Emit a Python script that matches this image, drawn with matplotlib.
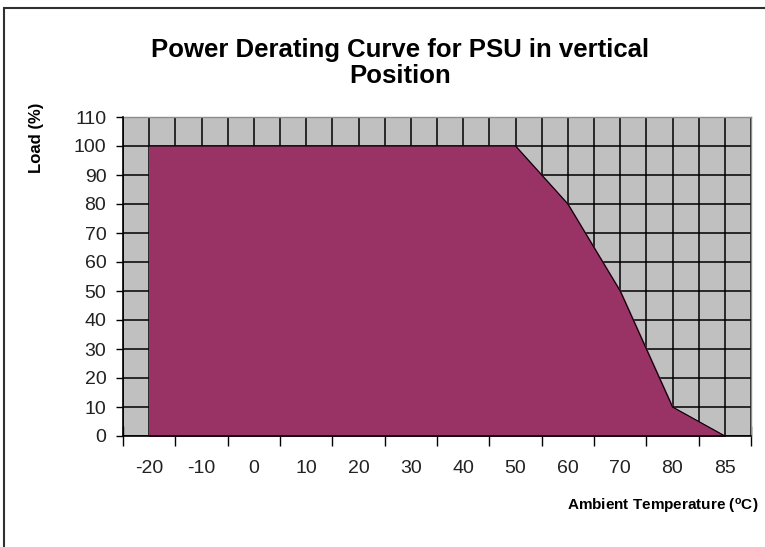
import numpy as np
import matplotlib
matplotlib.use("Agg")
import matplotlib.pyplot as plt
from matplotlib.patches import Rectangle

plt.rcParams["font.family"] = ["Liberation Sans", "DejaVu Sans"]
plt.rcParams["mathtext.fontset"] = "custom"
plt.rcParams["mathtext.rm"] = "Liberation Sans"
plt.rcParams["mathtext.bf"] = "Liberation Sans:bold"

# Data
temps = ["-20", "-10", "0", "10", "20", "30", "40", "50", "60", "70", "80", "85"]
load = [100, 100, 100, 100, 100, 100, 100, 100, 80, 50, 10, 0]
y_ticks = list(range(0, 111, 10))

fig = plt.figure(figsize=(7.65, 5.47), dpi=100)
ax = fig.add_axes([123 / 765, 1 - 436 / 547, 628 / 765, 319 / 547])

x = np.arange(len(temps))
ax.set_facecolor("#c0c0c0")
ax.fill_between(x, load, 0, color="#993366", zorder=2)
ax.plot(x, load, color="black", lw=0.8, zorder=3)

ax.set_xlim(-0.5, len(temps) - 0.5)
ax.set_ylim(0, 110)

# gridlines every half category, plus every 10 %
for gx in np.arange(-0.5, len(temps), 0.5):
    ax.axvline(gx, color="black", lw=1.1, zorder=1)
for gy in y_ticks:
    ax.axhline(gy, color="black", lw=1.1, zorder=1)

ax.set_yticks(y_ticks)
ax.tick_params(axis="y", direction="out", length=5, width=1, labelsize=14,
               pad=7, labelcolor="#222222")

ax.set_xticks(np.arange(-0.5, len(temps), 1.0))
ax.set_xticklabels([])
ax.tick_params(axis="x", which="major", direction="inout", length=14, width=1)
ax.set_xticks(x, minor=True)
ax.set_xticklabels(temps, minor=True)
ax.tick_params(axis="x", which="minor", length=0, labelsize=14, pad=17,
               labelcolor="#222222")

for s in ["left", "bottom"]:
    ax.spines[s].set_color("black")
    ax.spines[s].set_linewidth(1.2)
    ax.spines[s].set_zorder(4)
for s in ["top", "right"]:
    ax.spines[s].set_color("#8c8c8c")
    ax.spines[s].set_linewidth(1.0)

fig.text(400 / 765, 1 - 63 / 547, "Power Derating Curve for PSU in vertical\nPosition",
         ha="center", va="center", fontsize=18.5, fontweight="bold", linespacing=1.15)
fig.text(36 / 765, 1 - 138 / 547, "Load (%)", rotation=90, ha="center", va="center",
         fontsize=12, fontweight="bold")
fig.text(758 / 765, 1 - 506 / 547, r"Ambient Temperature ($\mathbf{^o}$C)",
         ha="right", va="center", fontsize=11, fontweight="bold")

# outer chart border (cropped on the right and bottom)
fig.patches.append(Rectangle((4 / 765, -0.1), 1.2, 1.1 - 8 / 547,
                             transform=fig.transFigure, fill=False,
                             edgecolor="#303030", lw=1.5))

fig.savefig("out.png", dpi=100)
